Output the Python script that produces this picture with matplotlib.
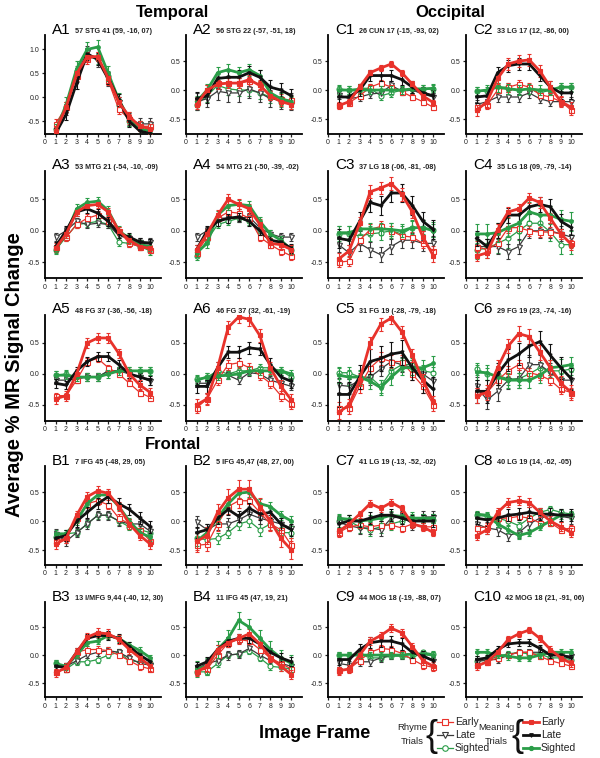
import numpy as np
import matplotlib
matplotlib.use('Agg')
import matplotlib.pyplot as plt
from matplotlib.lines import Line2D

plt.rcParams['font.family'] = ['Liberation Sans', 'DejaVu Sans']

# 影像幀 1..10
frames = np.arange(1, 11)

# 每個面板: [RE, RL, RS, ME, ML, MS]
# R = Rhyme trials (空心), M = Meaning trials (實心); E = early, L = late, S = sighted
A1 = [[-0.55, -0.2, 0.45, 0.8, 0.85, 0.35, -0.25, -0.45, -0.6, -0.6],
      [-0.65, -0.25, 0.5, 0.95, 0.75, 0.35, -0.1, -0.45, -0.55, -0.55],
      [-0.65, -0.2, 0.55, 0.85, 0.8, 0.45, -0.15, -0.5, -0.6, -0.65],
      [-0.7, -0.2, 0.5, 0.85, 0.85, 0.4, -0.1, -0.4, -0.6, -0.65],
      [-0.75, -0.35, 0.3, 0.9, 0.8, 0.4, -0.05, -0.5, -0.7, -0.75],
      [-0.7, -0.15, 0.6, 1.0, 1.05, 0.5, -0.05, -0.45, -0.65, -0.7]]
A2 = [[-0.2, 0.0, 0.12, 0.12, 0.12, 0.15, 0.1, -0.1, -0.15, -0.18],
      [-0.2, -0.15, -0.02, -0.05, -0.05, 0.02, -0.05, -0.15, -0.18, -0.2],
      [-0.25, -0.1, 0.08, 0.02, 0.0, 0.0, -0.05, -0.12, -0.2, -0.22],
      [-0.25, 0.0, 0.1, 0.12, 0.12, 0.18, 0.08, -0.1, -0.2, -0.25],
      [-0.15, -0.1, 0.2, 0.22, 0.22, 0.3, 0.22, 0.05, 0.0, -0.1],
      [-0.2, 0.0, 0.3, 0.35, 0.3, 0.35, 0.25, -0.05, -0.15, -0.2]]
C1 = [[-0.25, -0.22, -0.1, 0.05, 0.12, 0.05, -0.03, -0.12, -0.2, -0.3],
      [-0.08, -0.15, -0.12, -0.07, -0.05, 0.08, -0.02, 0.0, -0.07, -0.12],
      [0.02, 0.0, 0.03, 0.03, -0.1, -0.05, 0.0, 0.02, 0.02, 0.02],
      [-0.27, -0.2, 0.05, 0.3, 0.38, 0.45, 0.3, 0.1, -0.1, -0.22],
      [-0.12, -0.12, 0.0, 0.25, 0.25, 0.25, 0.18, 0.05, -0.05, -0.1],
      [0.0, 0.0, 0.0, 0.0, 0.0, 0.0, 0.0, 0.02, 0.02, 0.03]]
C2 = [[-0.3, -0.25, 0.0, 0.05, 0.1, 0.05, -0.08, -0.12, -0.2, -0.35],
      [-0.25, -0.2, -0.12, -0.12, -0.12, -0.05, -0.15, -0.2, -0.2, -0.2],
      [-0.02, -0.02, 0.05, 0.05, 0.0, 0.02, -0.05, 0.0, 0.05, 0.05],
      [-0.35, -0.2, 0.2, 0.45, 0.5, 0.52, 0.33, 0.05, -0.2, -0.3],
      [-0.12, -0.1, 0.3, 0.42, 0.45, 0.45, 0.25, 0.05, -0.05, -0.05],
      [-0.02, 0.0, 0.05, 0.02, 0.0, 0.02, 0.0, 0.0, 0.05, 0.05]]
A3 = [[-0.25, -0.1, 0.1, 0.2, 0.25, 0.15, 0.0, -0.2, -0.25, -0.3],
      [-0.1, 0.0, 0.15, 0.1, 0.12, 0.1, -0.08, -0.12, -0.18, -0.18],
      [-0.3, -0.1, 0.1, 0.12, 0.15, 0.1, -0.18, -0.2, -0.25, -0.32],
      [-0.28, -0.05, 0.3, 0.4, 0.42, 0.3, 0.0, -0.15, -0.25, -0.28],
      [-0.25, 0.0, 0.3, 0.35, 0.28, 0.15, -0.05, -0.1, -0.18, -0.2],
      [-0.3, -0.05, 0.35, 0.45, 0.47, 0.32, 0.0, -0.12, -0.22, -0.25]]
A4 = [[-0.35, -0.1, 0.2, 0.3, 0.28, 0.2, -0.1, -0.22, -0.32, -0.4],
      [-0.1, 0.0, 0.2, 0.2, 0.2, 0.22, 0.05, -0.05, -0.1, -0.1],
      [-0.4, -0.15, 0.1, 0.15, 0.2, 0.15, 0.0, -0.15, -0.2, -0.3],
      [-0.3, -0.05, 0.25, 0.5, 0.42, 0.35, 0.1, -0.2, -0.22, -0.3],
      [-0.3, 0.0, 0.15, 0.2, 0.22, 0.15, 0.0, -0.15, -0.18, -0.28],
      [-0.35, -0.2, 0.25, 0.4, 0.42, 0.4, 0.15, -0.05, -0.15, -0.3]]
C3 = [[-0.5, -0.48, -0.15, 0.02, 0.07, 0.0, -0.08, -0.1, -0.2, -0.32],
      [-0.22, -0.35, -0.2, -0.3, -0.38, -0.25, -0.15, -0.15, -0.2, -0.2],
      [-0.05, -0.05, -0.08, -0.05, -0.03, 0.0, -0.05, 0.05, 0.05, 0.02],
      [-0.45, -0.32, 0.12, 0.62, 0.68, 0.75, 0.58, 0.3, -0.1, -0.4],
      [-0.12, -0.15, 0.15, 0.45, 0.4, 0.6, 0.6, 0.4, 0.15, 0.02],
      [-0.03, -0.03, 0.03, 0.03, 0.03, 0.02, 0.0, 0.05, 0.05, 0.0]]
C4 = [[-0.25, -0.3, -0.2, 0.05, 0.05, 0.0, -0.02, -0.02, -0.05, -0.2],
      [-0.25, -0.25, -0.25, -0.33, -0.25, 0.0, 0.0, 0.0, -0.05, -0.1],
      [-0.3, -0.28, -0.2, -0.12, 0.0, 0.12, 0.12, -0.02, -0.22, -0.22],
      [-0.4, -0.35, 0.02, 0.3, 0.35, 0.52, 0.45, 0.2, -0.05, -0.22],
      [-0.12, -0.25, 0.0, 0.25, 0.25, 0.38, 0.42, 0.38, 0.15, 0.05],
      [-0.05, -0.05, -0.03, 0.05, 0.12, 0.3, 0.25, 0.25, 0.18, 0.15]]
A5 = [[-0.35, -0.35, -0.1, 0.2, 0.25, 0.1, 0.0, -0.15, -0.3, -0.38],
      [-0.1, -0.1, -0.08, -0.05, -0.05, 0.05, 0.05, 0.0, -0.05, -0.12],
      [-0.02, 0.0, -0.05, -0.05, -0.05, 0.05, 0.05, 0.05, 0.05, 0.05],
      [-0.4, -0.35, 0.0, 0.5, 0.58, 0.58, 0.33, 0.0, -0.18, -0.3],
      [-0.15, -0.18, 0.05, 0.2, 0.28, 0.28, 0.15, 0.0, -0.05, -0.1],
      [-0.02, -0.02, -0.05, -0.05, -0.05, 0.0, 0.05, 0.05, 0.05, 0.05]]
A6 = [[-0.55, -0.4, -0.1, 0.15, 0.18, 0.1, -0.02, -0.15, -0.35, -0.48],
      [-0.15, -0.15, -0.05, -0.02, -0.1, 0.02, 0.0, -0.1, -0.15, -0.2],
      [-0.08, -0.05, 0.05, 0.0, 0.05, 0.05, 0.1, 0.1, 0.05, -0.05],
      [-0.5, -0.4, 0.1, 0.75, 0.92, 0.88, 0.62, 0.1, -0.2, -0.42],
      [-0.2, -0.2, 0.1, 0.35, 0.35, 0.42, 0.4, 0.15, -0.05, -0.12],
      [-0.1, -0.05, -0.03, -0.02, 0.0, 0.05, 0.05, 0.05, 0.05, 0.0]]
C5 = [[-0.55, -0.55, -0.2, 0.1, 0.25, 0.2, 0.2, 0.0, -0.2, -0.5],
      [-0.18, -0.2, -0.1, -0.05, 0.08, 0.2, 0.15, 0.1, 0.0, -0.12],
      [0.02, 0.02, -0.05, -0.05, -0.2, 0.05, 0.15, 0.15, 0.05, 0.02],
      [-0.62, -0.5, -0.1, 0.5, 0.8, 0.9, 0.68, 0.3, -0.1, -0.45],
      [-0.33, -0.33, -0.05, 0.2, 0.25, 0.32, 0.35, 0.1, -0.1, -0.25],
      [-0.02, -0.05, -0.05, -0.12, -0.22, -0.05, 0.1, 0.1, 0.1, 0.17]]
C6 = [[-0.3, -0.3, -0.1, 0.05, 0.15, 0.02, -0.02, -0.1, -0.25, -0.3],
      [-0.2, -0.42, -0.28, -0.1, -0.08, 0.15, 0.15, 0.02, -0.1, -0.1],
      [0.08, 0.0, -0.02, -0.08, -0.08, 0.0, 0.1, 0.05, 0.05, 0.08],
      [-0.35, -0.3, 0.1, 0.45, 0.65, 0.6, 0.35, 0.1, -0.15, -0.3],
      [-0.28, -0.28, 0.0, 0.22, 0.32, 0.45, 0.52, 0.3, 0.1, -0.08],
      [0.03, 0.02, -0.05, -0.1, -0.1, -0.1, -0.02, 0.1, 0.12, 0.15]]
B1 = [[-0.35, -0.3, 0.05, 0.3, 0.35, 0.28, 0.05, -0.05, -0.15, -0.35],
      [-0.22, -0.35, -0.2, -0.05, 0.1, 0.1, 0.0, -0.05, -0.05, -0.18],
      [-0.28, -0.22, -0.2, -0.05, 0.1, 0.1, 0.0, -0.1, -0.15, -0.2],
      [-0.4, -0.3, 0.1, 0.42, 0.52, 0.48, 0.25, -0.05, -0.25, -0.4],
      [-0.3, -0.25, 0.0, 0.15, 0.3, 0.42, 0.3, 0.2, 0.05, -0.1],
      [-0.22, -0.22, 0.0, 0.3, 0.45, 0.45, 0.25, 0.0, -0.2, -0.28]]
B2 = [[-0.42, -0.4, -0.05, 0.25, 0.35, 0.35, 0.15, -0.05, -0.15, -0.42],
      [-0.02, -0.15, -0.05, -0.05, 0.02, 0.12, 0.05, 0.0, -0.05, -0.12],
      [-0.3, -0.32, -0.3, -0.2, -0.05, 0.0, -0.15, -0.05, -0.2, -0.2],
      [-0.35, -0.25, 0.15, 0.4, 0.55, 0.55, 0.25, 0.0, -0.3, -0.5],
      [-0.2, -0.15, 0.05, 0.2, 0.08, 0.22, 0.12, 0.15, -0.05, -0.15],
      [-0.35, -0.2, 0.05, 0.3, 0.48, 0.5, 0.3, 0.25, 0.1, 0.0]]
C7 = [[-0.2, -0.1, -0.07, -0.1, -0.07, -0.07, -0.12, -0.05, -0.1, -0.1],
      [-0.02, -0.08, -0.12, -0.12, -0.15, 0.05, 0.08, -0.05, 0.07, 0.07],
      [0.0, 0.0, -0.1, -0.15, -0.1, -0.05, 0.0, 0.05, 0.02, 0.02],
      [-0.18, -0.05, 0.12, 0.3, 0.22, 0.32, 0.22, -0.05, -0.1, -0.2],
      [-0.05, 0.0, 0.0, 0.05, 0.1, 0.1, 0.05, 0.0, 0.0, 0.0],
      [0.05, 0.03, 0.0, 0.02, 0.05, 0.1, 0.08, 0.05, 0.05, 0.05]]
C8 = [[-0.12, -0.1, 0.05, 0.05, 0.08, 0.05, -0.03, -0.03, -0.15, -0.12],
      [-0.05, -0.12, -0.15, -0.25, -0.2, -0.05, 0.05, 0.1, 0.08, 0.05],
      [0.1, 0.08, 0.05, 0.0, -0.08, 0.05, 0.15, 0.2, 0.15, 0.12],
      [-0.25, -0.15, 0.15, 0.32, 0.35, 0.32, 0.15, 0.0, -0.1, -0.2],
      [0.05, 0.02, 0.05, 0.1, 0.12, 0.15, 0.12, 0.12, 0.1, 0.1],
      [0.12, 0.1, -0.05, -0.15, -0.25, -0.2, -0.1, 0.0, 0.1, 0.1]]
B3 = [[-0.3, -0.25, 0.05, 0.1, 0.1, 0.08, 0.0, -0.1, -0.2, -0.25],
      [-0.2, -0.2, -0.1, 0.0, 0.05, 0.08, 0.05, -0.05, -0.15, -0.18],
      [-0.15, -0.25, -0.12, -0.12, -0.08, 0.0, 0.05, -0.1, -0.12, -0.15],
      [-0.32, -0.22, 0.05, 0.32, 0.4, 0.38, 0.28, 0.1, -0.05, -0.2],
      [-0.2, -0.22, 0.05, 0.3, 0.35, 0.35, 0.3, 0.15, 0.0, -0.12],
      [-0.15, -0.2, 0.0, 0.22, 0.25, 0.35, 0.3, 0.18, 0.08, -0.05]]
B4 = [[-0.28, -0.25, 0.0, 0.22, 0.28, 0.25, 0.1, -0.05, -0.15, -0.25],
      [-0.25, -0.15, -0.1, 0.0, 0.02, 0.12, 0.0, -0.1, -0.15, -0.2],
      [-0.3, -0.3, -0.15, 0.0, 0.02, 0.08, -0.05, -0.2, -0.22, -0.25],
      [-0.3, -0.2, 0.1, 0.22, 0.3, 0.38, 0.2, -0.05, -0.2, -0.35],
      [-0.2, -0.12, 0.1, 0.25, 0.3, 0.3, 0.2, 0.05, -0.05, -0.12],
      [-0.25, -0.2, 0.1, 0.3, 0.62, 0.5, 0.3, 0.1, -0.05, -0.15]]
C9 = [[-0.27, -0.25, -0.1, 0.05, 0.12, 0.1, 0.03, -0.08, -0.18, -0.22],
      [-0.15, -0.18, -0.12, -0.12, -0.05, 0.0, 0.0, 0.03, 0.0, -0.1],
      [0.0, 0.0, 0.02, -0.05, -0.05, -0.02, -0.02, -0.05, 0.05, 0.02],
      [-0.28, -0.25, 0.0, 0.25, 0.35, 0.48, 0.4, 0.15, -0.1, -0.2],
      [-0.08, -0.08, 0.1, 0.22, 0.25, 0.25, 0.2, 0.05, -0.02, -0.1],
      [0.0, 0.0, 0.0, 0.0, 0.0, 0.0, 0.0, 0.02, 0.02, 0.0]]
C10 = [[-0.18, -0.12, -0.05, 0.0, 0.05, 0.05, -0.02, -0.1, -0.15, -0.2],
       [-0.12, -0.08, -0.08, 0.0, 0.05, 0.05, 0.05, 0.0, 0.0, -0.02],
       [-0.1, -0.1, -0.02, 0.02, 0.05, 0.02, 0.02, -0.05, -0.05, -0.08],
       [-0.2, -0.12, 0.05, 0.28, 0.38, 0.45, 0.3, 0.1, -0.05, -0.15],
       [-0.08, -0.05, 0.1, 0.2, 0.22, 0.22, 0.12, 0.0, 0.0, -0.05],
       [0.05, 0.05, 0.0, -0.02, -0.05, -0.05, 0.0, 0.05, 0.05, 0.05]]

# 每個面板各序列的誤差棒 (約略估計)
errors = {
    'A1': [0.1, 0.12, 0.1, 0.1, 0.12, 0.15], 'A2': [0.08, 0.15, 0.1, 0.08, 0.12, 0.1],
    'C1': [0.05, 0.07, 0.07, 0.05, 0.1, 0.07], 'C2': [0.08, 0.08, 0.07, 0.1, 0.1, 0.08],
    'A3': [0.06, 0.06, 0.06, 0.06, 0.07, 0.07], 'A4': [0.06, 0.06, 0.06, 0.08, 0.07, 0.07],
    'C3': [0.08, 0.12, 0.12, 0.1, 0.15, 0.1], 'C4': [0.08, 0.12, 0.15, 0.08, 0.12, 0.15],
    'A5': [0.05, 0.06, 0.06, 0.08, 0.07, 0.06], 'A6': [0.08, 0.06, 0.06, 0.1, 0.1, 0.06],
    'C5': [0.1, 0.12, 0.1, 0.1, 0.2, 0.12], 'C6': [0.08, 0.15, 0.1, 0.12, 0.18, 0.12],
    'B1': [0.08, 0.08, 0.06, 0.08, 0.1, 0.06], 'B2': [0.12, 0.1, 0.1, 0.15, 0.1, 0.08],
    'C7': [0.07, 0.1, 0.1, 0.06, 0.1, 0.08], 'C8': [0.06, 0.1, 0.06, 0.08, 0.1, 0.06],
    'B3': [0.06, 0.06, 0.06, 0.08, 0.08, 0.06], 'B4': [0.08, 0.08, 0.06, 0.08, 0.08, 0.15],
    'C9': [0.06, 0.07, 0.05, 0.07, 0.1, 0.05], 'C10': [0.05, 0.06, 0.05, 0.06, 0.06, 0.06],
}

panel_ids = ['A1', 'A2', 'C1', 'C2', 'A3', 'A4', 'C3', 'C4', 'A5', 'A6',
             'C5', 'C6', 'B1', 'B2', 'C7', 'C8', 'B3', 'B4', 'C9', 'C10']
panel_data = [A1, A2, C1, C2, A3, A4, C3, C4, A5, A6,
              C5, C6, B1, B2, C7, C8, B3, B4, C9, C10]
panel_desc = ['57 STG 41 (59, -16, 07)', '56 STG 22 (-57, -51, 18)',
              '26 CUN 17 (-15, -93, 02)', '33 LG 17 (12, -86, 00)',
              '53 MTG 21 (-54, -10, -09)', '54 MTG 21 (-50, -39, -02)',
              '37 LG 18 (-06, -81, -08)', '35 LG 18 (09, -79, -14)',
              '48 FG 37 (-36, -56, -18)', '46 FG 37 (32, -61, -19)',
              '31 FG 19 (-28, -79, -18)', '29 FG 19 (23, -74, -16)',
              '7 IFG 45 (-48, 29, 05)', '5 IFG 45,47 (48, 27, 00)',
              '41 LG 19 (-13, -52, -02)', '40 LG 19 (14, -62, -05)',
              '13 I/MFG 9,44 (-40, 12, 30)', '11 IFG 45 (47, 19, 21)',
              '44 MOG 18 (-19, -88, 07)', '42 MOG 18 (21, -91, 06)']

# 顏色與樣式
RED = '#e8322b'
GREEN = '#2a9d48'
BLACK = '#111111'
GRAY = '#3a3a3a'
styles = [
    dict(color=RED, marker='s', mfc='white', ms=3.6, lw=0.9),     # Rhyme early
    dict(color=GRAY, marker='v', mfc='white', ms=3.6, lw=0.9),    # Rhyme late
    dict(color=GREEN, marker='o', mfc='white', ms=3.6, lw=0.9),   # Rhyme sighted
    dict(color=RED, marker='s', mfc=RED, ms=3.0, lw=2.0),         # Meaning early
    dict(color=BLACK, marker='v', mfc=BLACK, ms=2.2, lw=2.0),     # Meaning late
    dict(color=GREEN, marker='o', mfc=GREEN, ms=2.6, lw=2.0),     # Meaning sighted
]
draw_order = [2, 1, 0, 5, 4, 3]

W, H = 600, 758
fig = plt.figure(figsize=(6, 7.58), dpi=100)


def fx(x):
    return x / W


def fy(y):
    return 1 - y / H


col_left = [45, 186, 328, 466]
row_span = [(35, 133.5), (171, 278), (315, 420.5), (466, 564.5), (602, 697)]
ax_w = 116

for i, (pid, data, desc) in enumerate(zip(panel_ids, panel_data, panel_desc)):
    r, c = divmod(i, 4)
    top, bot = row_span[r]
    ax = fig.add_axes([fx(col_left[c]), fy(bot), ax_w / W, (bot - top) / H])
    for k in draw_order:
        st = styles[k]
        ax.errorbar(frames, data[k], yerr=errors[pid][k], color=st['color'],
                    marker=st['marker'], mfc=st['mfc'], mec=st['color'],
                    ms=st['ms'], lw=st['lw'], elinewidth=0.8, capsize=1.6,
                    capthick=0.8, mew=0.8, zorder=3 if k < 3 else 4)
    ax.set_xlim(0, 11)
    if pid == 'A1':
        ax.set_ylim(-0.75, 1.3)
        ax.set_yticks([-0.5, 0.0, 0.5, 1.0])
    else:
        ax.set_ylim(-0.75, 0.95)
        ax.set_yticks([-0.5, 0.0, 0.5])
    ax.yaxis.set_major_formatter(matplotlib.ticker.FormatStrFormatter('%.1f'))
    ax.set_xticks(range(0, 11))
    for s in ['top', 'right']:
        ax.spines[s].set_visible(False)
    for s in ['left', 'bottom']:
        ax.spines[s].set_linewidth(1.3)
    ax.tick_params(axis='both', direction='out', length=2.5, width=0.9,
                   labelsize=5, pad=1.5, colors='#222222')
    ax.patch.set_alpha(0)
    lab = ax.text(0.06, 1.015, pid, transform=ax.transAxes, fontsize=11,
                  ha='left', va='baseline')
    ax.annotate(desc, xy=(1, 0.1), xycoords=lab, xytext=(3, 0),
                textcoords='offset points', fontsize=5.2, fontweight='bold',
                ha='left', va='bottom', color='#222222')

# 區域標題
fig.text(fx(173), fy(12), 'Temporal', fontsize=12, fontweight='bold',
         ha='center', va='center')
fig.text(fx(450), fy(12), 'Occipital', fontsize=12, fontweight='bold',
         ha='center', va='center')
fig.text(fx(173), fy(444), 'Frontal', fontsize=12, fontweight='bold',
         ha='center', va='center')

# 軸標題
fig.text(fx(15), fy(375), 'Average % MR Signal Change', fontsize=14.5,
         fontweight='bold', rotation=90, ha='center', va='center')
fig.text(fx(315), fy(733), 'Image Frame', fontsize=13, fontweight='bold',
         ha='center', va='center')

# 自製圖例
leg = fig.add_axes([0, 0, 1, 1])
leg.set_xlim(0, W)
leg.set_ylim(H, 0)
leg.axis('off')
narrow = ['Liberation Sans Narrow', 'Liberation Sans', 'DejaVu Sans']
leg_names = ['Early', 'Late', 'Sighted']
leg_rows = [722, 735, 748]


def legend_group(title_x, brace_x, line_x0, line_x1, text_x, group_styles, title):
    leg.text(title_x, 728, title, fontsize=6.8, family=narrow, ha='center',
             va='center', color='#222222')
    leg.text(title_x, 742, 'Trials', fontsize=6.8, family=narrow, ha='center',
             va='center', color='#222222')
    leg.text(brace_x, 736, '{', fontsize=26, family=narrow, ha='center',
             va='center', color='#111111')
    for name, yy, st in zip(leg_names, leg_rows, group_styles):
        leg.add_line(Line2D([line_x0, line_x1], [yy, yy], color=st['color'],
                            lw=st['lw']))
        leg.add_line(Line2D([(line_x0 + line_x1) / 2], [yy], color=st['color'],
                            marker=st['marker'], mfc=st['mfc'],
                            mec=st['color'], ms=st['ms'] + 0.4, mew=0.8))
        leg.text(text_x, yy, name, fontsize=7.5, family=narrow, ha='left',
                 va='center', color='#222222')


legend_group(412, 431, 437, 453, 455, styles[:3], 'Rhyme')
legend_group(496, 518, 523, 539, 541, styles[3:], 'Meaning')

fig.savefig('out.png', dpi=100)
